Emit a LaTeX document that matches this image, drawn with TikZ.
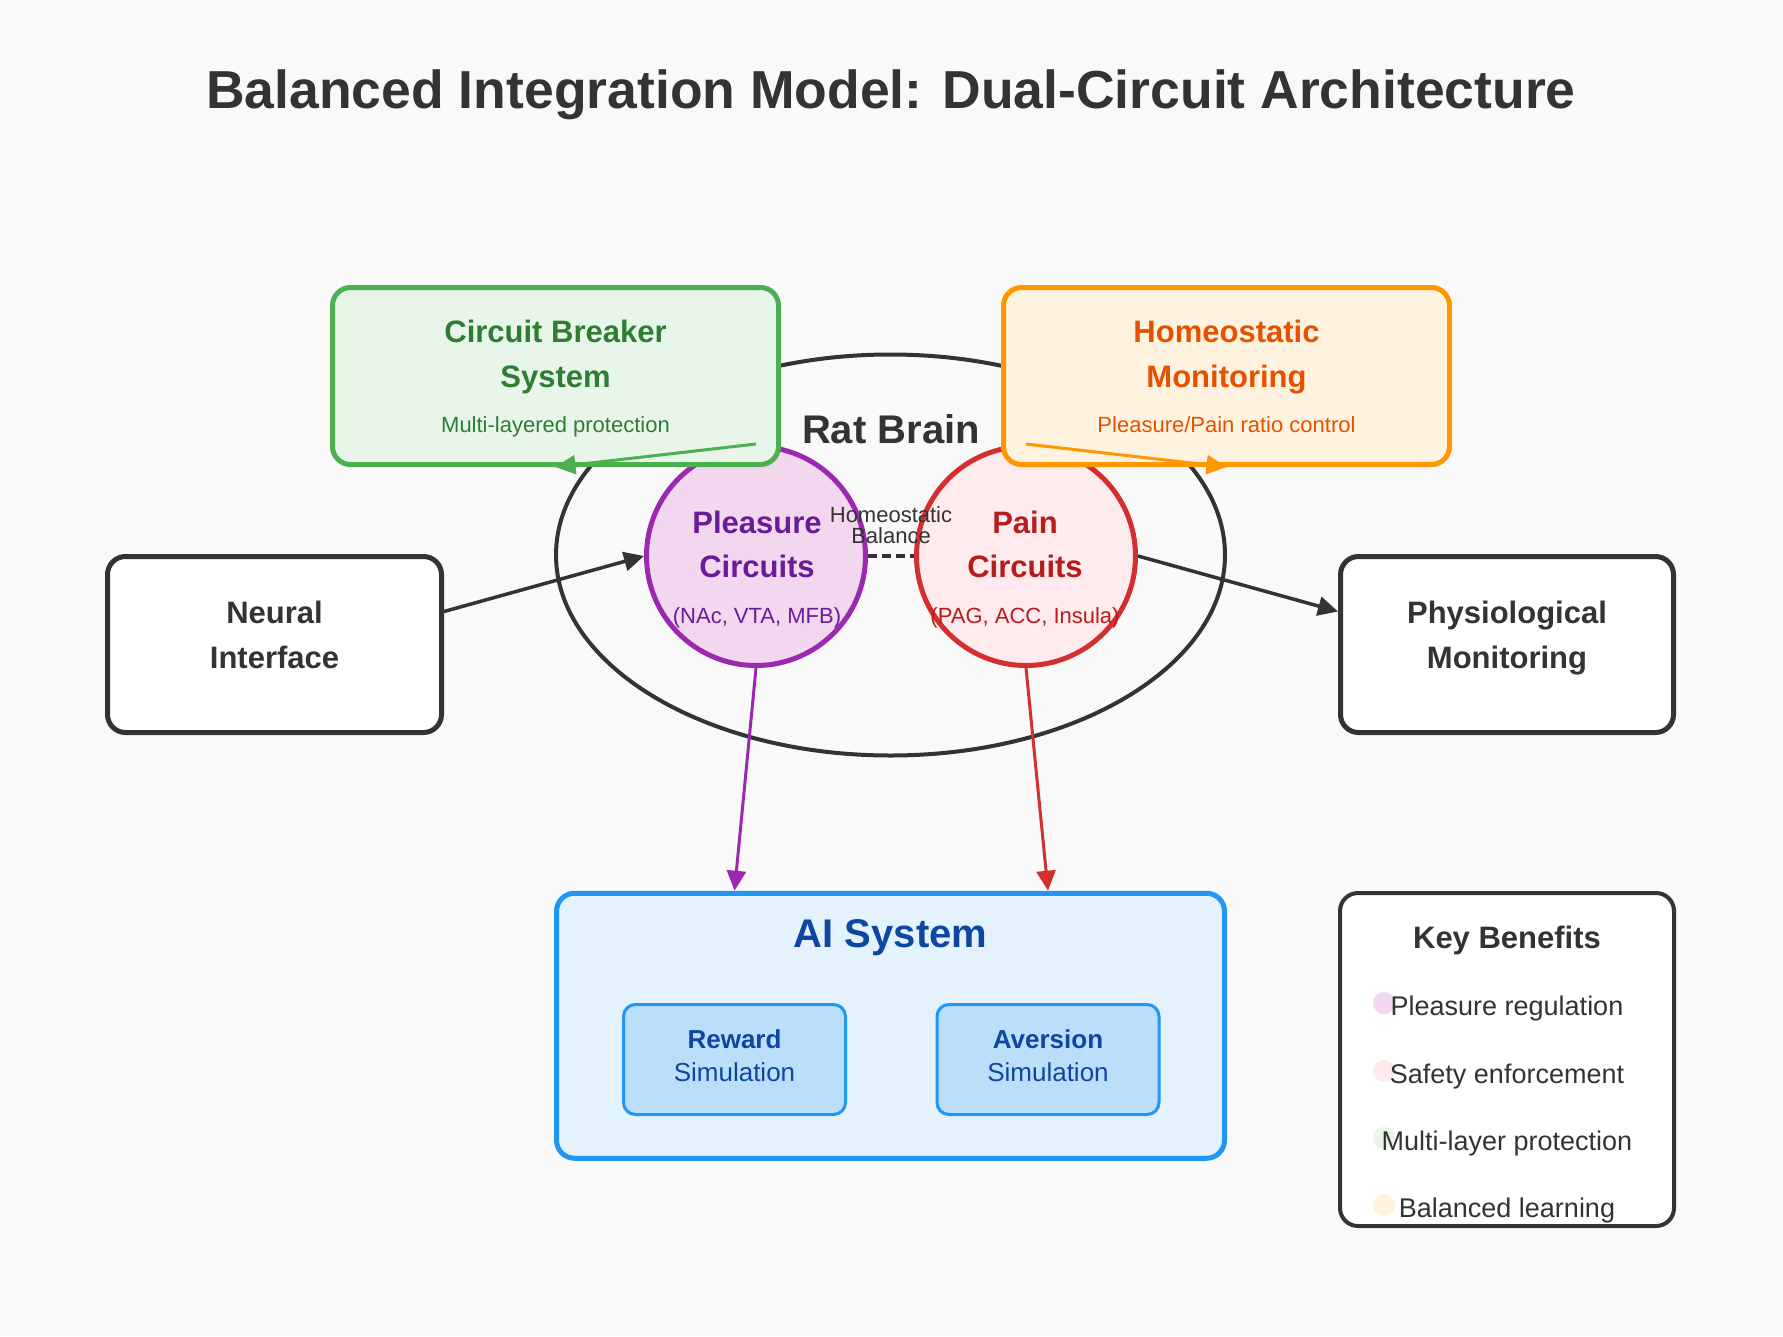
\documentclass[tikz,border=0pt]{standalone}
\usepackage{fontspec}
\setmainfont{Liberation Sans}
\usetikzlibrary{arrows.meta,shapes.geometric}
\definecolor{bg}{HTML}{F9F9F9}
\definecolor{ink}{HTML}{333333}
\definecolor{cbfill}{HTML}{E8F5E9}
\definecolor{cbline}{HTML}{4CAF50}
\definecolor{cbtext}{HTML}{2E7D32}
\definecolor{hmfill}{HTML}{FFF3E0}
\definecolor{hmline}{HTML}{FF9800}
\definecolor{hmtext}{HTML}{E65100}
\definecolor{plfill}{HTML}{F2D7EE}
\definecolor{plline}{HTML}{9C27B0}
\definecolor{pltext}{HTML}{6A1B9A}
\definecolor{pafill}{HTML}{FFEBEE}
\definecolor{paline}{HTML}{D32F2F}
\definecolor{patext}{HTML}{B71C1C}
\definecolor{aifill}{HTML}{E3F2FD}
\definecolor{ailine}{HTML}{2196F3}
\definecolor{aitext}{HTML}{0D47A1}
\definecolor{simfill}{HTML}{BBDEFB}
\newcommand\pxsize[1]{\fontsize{#1}{#1}\selectfont}

\begin{document}
\begin{tikzpicture}[x=1pt, y=-1pt,
		lbl/.style={anchor=base, inner sep=0},
		hd/.style={lbl, font=\pxsize{31}\bfseries},
		sub/.style={lbl, font=\pxsize{22}},
		bigbox/.style={draw, rounded corners=18, line width=5, inner sep=0},
		simbox/.style={draw=ailine, fill=simfill, rounded corners=12, line width=3,
			minimum width=222, minimum height=110, inner sep=0},
		circuit/.style={circle, line width=5, minimum size=219, inner sep=0},
		tip/.style={-{Triangle[length=20pt,width=19pt]}},
		arrbk/.style={tip, draw=ink, fill=ink, line width=3.5},
		arrcol/.style={tip, line width=3}]
		\useasboundingbox (0,0) rectangle (1783,1336);
		\fill[bg] (0,0) rectangle (1783,1336);

		\node[lbl, text=ink, font=\pxsize{53.5}\bfseries] (title) at (891,108)
			{Balanced Integration Model: Dual-Circuit Architecture};

		\node[ellipse, draw=ink, line width=4, minimum width=669, minimum height=401, inner sep=0]
			(brain) at (890.5,555) {};
		\node[lbl, text=ink, font=\pxsize{40}\bfseries] (brainlbl) at (891,443) {Rat Brain};

		\node[circuit, draw=plline, fill=plfill] (pleasure) at (756,556) {};
		\node[circuit, draw=paline, fill=pafill] (pain) at (1026,556) {};
		\node[hd, text=pltext] (pl1) at (757,533) {Pleasure};
		\node[hd, text=pltext] (pl2) at (757,577) {Circuits};
		\node[lbl, text=pltext, font=\pxsize{22}] (pl3) at (757,623) {(NAc, VTA, MFB)};
		\node[hd, text=patext] (pa1) at (1025,533) {Pain};
		\node[hd, text=patext] (pa2) at (1025,577) {Circuits};
		\node[lbl, text=patext, font=\pxsize{22}] (pa3) at (1025,623) {(PAG, ACC, Insula)};

		\draw[ink, line width=4, dash pattern=on 9pt off 5pt] (pleasure.east) -- (pain.west);
		\node[sub, text=ink] (bal1) at (891,522) {Homeostatic};
		\node[sub, text=ink] (bal2) at (891,543) {Balance};

		\node[bigbox, draw=cbline, fill=cbfill, minimum width=446, minimum height=177]
			(cb) at (555.5,376) {};
		\node[hd, text=cbtext] (cb1) at (555.5,342) {Circuit Breaker};
		\node[hd, text=cbtext] (cb2) at (555.5,387) {System};
		\node[sub, text=cbtext] (cb3) at (555.5,432) {Multi-layered protection};

		\node[bigbox, draw=hmline, fill=hmfill, minimum width=446, minimum height=177]
			(hm) at (1226.5,376) {};
		\node[hd, text=hmtext] (hm1) at (1226.5,342) {Homeostatic};
		\node[hd, text=hmtext] (hm2) at (1226.5,387) {Monitoring};
		\node[sub, text=hmtext] (hm3) at (1226.5,432) {Pleasure/Pain ratio control};

		\node[bigbox, draw=ink, fill=white, minimum width=334, minimum height=176]
			(neural) at (274.5,644.5) {};
		\node[hd, text=ink] (ne1) at (274.5,623) {Neural};
		\node[hd, text=ink] (ne2) at (274.5,668) {Interface};

		\node[bigbox, draw=ink, fill=white, minimum width=333, minimum height=176]
			(physio) at (1507,644.5) {};
		\node[hd, text=ink] (ph1) at (1507,623) {Physiological};
		\node[hd, text=ink] (ph2) at (1507,668) {Monitoring};

		\node[bigbox, draw=ailine, fill=aifill, minimum width=668, minimum height=265]
			(ai) at (890.5,1025.75) {};
		\node[lbl, text=aitext, font=\pxsize{40}\bfseries] (ailbl) at (890.5,947) {AI System};
		\node[simbox] (reward) at (734.5,1059.5) {};
		\node[lbl, text=aitext, font=\pxsize{26}\bfseries] (rw1) at (734.5,1048) {Reward};
		\node[lbl, text=aitext, font=\pxsize{26}] (rw2) at (734.5,1081) {Simulation};
		\node[simbox] (aversion) at (1048,1059.5) {};
		\node[lbl, text=aitext, font=\pxsize{26}\bfseries] (av1) at (1048,1048) {Aversion};
		\node[lbl, text=aitext, font=\pxsize{26}] (av2) at (1048,1081) {Simulation};

		\node[bigbox, draw=ink, fill=white, line width=4, minimum width=334, minimum height=333]
			(key) at (1507,1059.5) {};
		\node[lbl, text=ink, font=\pxsize{31}\bfseries] (keylbl) at (1507,948) {Key Benefits};
		\foreach \y/\c/\t [count=\i] in {1003/plfill/Pleasure regulation,
				1071/pafill/Safety enforcement,
				1138/cbfill/Multi-layer protection,
				1205/hmfill/Balanced learning} {
			\fill[\c] (1384,\y) circle (11);
			\node[lbl, text=ink, font=\pxsize{27}] (item\i) at (1507,\y+12) {\t};
		}

		\draw[arrbk] ([yshift=33pt]neural.east) -- (pleasure.west);
		\draw[arrbk] (pain.east) -- ([yshift=33pt]physio.west);
		\draw[arrcol, draw=cbline, fill=cbline] (pleasure.north) -- (cb.south);
		\draw[arrcol, draw=hmline, fill=hmline] (pain.north) -- (hm.south);
		\draw[arrcol, draw=plline, fill=plline] (pleasure.south) -- (reward |- ai.north);
		\draw[arrcol, draw=paline, fill=paline] (pain.south) -- (aversion |- ai.north);
	\end{tikzpicture}
\end{document}
